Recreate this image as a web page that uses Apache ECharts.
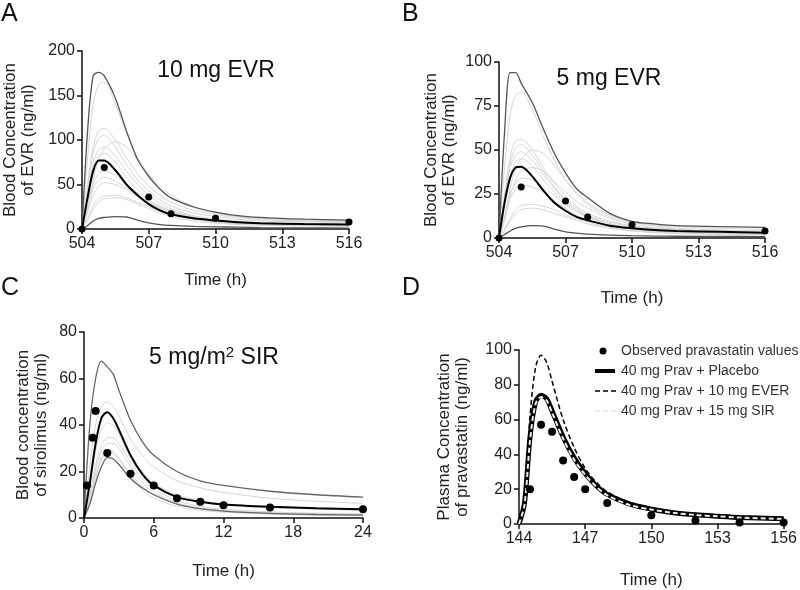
<!DOCTYPE html>
<html><head><meta charset="utf-8">
<script src="https://cdn.jsdelivr.net/npm/echarts@6/dist/echarts.min.js"></script>
<style>html,body{margin:0;padding:0;background:#fff}#c{width:800px;height:590px}</style>
</head><body><div id="c"></div>
<script>
// ---------- Panel A: 10 mg EVR ----------
const TIME_A = [504, 504.25, 504.5, 504.75, 505, 505.5, 506, 506.5, 507, 507.5, 508, 509, 510, 511, 512, 514, 516];
const A_MEDIAN = [0, 35, 65, 77, 77, 66, 50, 38, 28, 21, 16.5, 12, 9.5, 7.5, 6.5, 5.5, 5];
const A_P95 = [0, 110, 172, 176, 172, 147, 110, 78, 59, 45, 35, 25, 19, 15, 13, 11, 10];
const A_P05 = [0, 4, 9, 12, 13, 14, 13.5, 10, 7, 5, 4, 3, 2.5, 2, 1.5, 1.2, 1];
const A_SIMS = [
  [0, 80, 140, 162, 165, 140, 108, 80, 60, 45, 35, 24, 18, 14, 12, 10, 9],
  [0, 50, 92, 110, 113, 100, 80, 62, 48, 38, 30, 21, 16, 13, 11, 9, 8],
  [0, 45, 85, 102, 105, 92, 72, 55, 43, 33, 26, 18, 14, 11, 9, 8, 7],
  [0, 25, 55, 78, 90, 98, 92, 78, 62, 48, 38, 25, 18, 14, 11, 9, 8],
  [0, 40, 75, 89, 92, 82, 65, 50, 38, 29, 23, 15, 11, 9, 7, 6, 5],
  [0, 38, 70, 83, 85, 75, 58, 44, 33, 25, 20, 13, 10, 8, 6.5, 5.5, 5],
  [0, 25, 50, 62, 65, 60, 50, 40, 32, 26, 21, 14, 10, 8, 6, 5, 4],
  [0, 22, 45, 55, 58, 54, 46, 38, 30, 24, 19, 13, 9, 7, 5.5, 4.5, 4],
  [0, 18, 38, 48, 52, 50, 44, 36, 29, 23, 18, 12, 8, 6, 5, 4, 3.5],
  [0, 12, 26, 34, 37, 38, 35, 30, 25, 20, 16, 11, 8, 6, 5, 4, 3.5],
  [0, 10, 22, 30, 34, 35, 33, 28, 23, 18, 14, 9, 6.5, 5, 4, 3.5, 3]
];
const A_OBS_T = [504, 505, 507, 508, 510, 516];
const A_OBS_V = [0, 69, 36, 17, 12, 8];

// ---------- Panel B: 5 mg EVR ----------
const TIME_B = [504, 504.25, 504.5, 504.75, 505, 505.5, 506, 506.5, 507, 507.5, 508, 509, 510, 511, 512, 514, 516];
const B_MEDIAN = [0, 20, 34, 40, 40.5, 35, 27, 20, 15.5, 12, 10, 7, 5.5, 4.5, 4, 3.5, 3];
const B_P95 = [0, 60, 94, 94, 88, 77, 62, 48, 37, 28, 23, 14, 9.5, 8, 7, 6.5, 6];
const B_P05 = [0, 2, 4, 5.5, 6.3, 7, 6.8, 5, 3.5, 2.8, 2.2, 1.6, 1.3, 1.1, 1, 0.9, 0.8];
const B_SIMS = [
  [0, 40, 70, 81, 83, 73, 58, 44, 33, 25, 19, 12, 9, 7.5, 6.5, 5.5, 5],
  [0, 25, 46, 55, 56, 50, 40, 31, 24, 18, 14, 9.5, 7, 5.5, 4.8, 4, 3.5],
  [0, 22, 42, 51, 53, 47, 38, 29, 22, 17, 13, 9, 6.5, 5, 4.5, 3.8, 3.3],
  [0, 12, 28, 39, 45, 50, 48, 41, 33, 26, 20, 13, 9, 7, 5.5, 4.5, 4],
  [0, 22, 40, 47, 49, 44, 36, 28, 21, 16, 12.5, 8, 6, 4.8, 4, 3.5, 3],
  [0, 19, 36, 43, 45, 41, 33, 26, 20, 15, 12, 8, 5.5, 4.5, 3.8, 3.2, 2.8],
  [0, 10, 24, 33, 38, 40, 38, 32, 26, 21, 17, 11, 8, 6, 5, 4, 3.5],
  [0, 12, 25, 31, 34, 33, 29, 24, 19, 15, 12, 8, 5.5, 4.2, 3.5, 3, 2.5],
  [0, 10, 22, 28, 30, 29, 26, 21, 17, 13, 10, 7, 5, 3.8, 3.2, 2.7, 2.3],
  [0, 5, 11, 16, 18.5, 19, 18, 16, 13, 11, 9, 6, 4.3, 3.3, 2.8, 2.3, 2],
  [0, 4, 10, 14, 16, 17, 16, 14, 12, 10, 8, 5.5, 4, 3, 2.5, 2, 1.8]
];
const B_OBS_T = [504, 505, 507, 508, 510, 516];
const B_OBS_V = [0, 29, 21, 12, 7.5, 4];

// ---------- Panel C: 5 mg/m2 SIR ----------
const TIME_C = [0, 0.5, 1, 1.5, 2, 2.5, 3, 4, 5, 6, 8, 10, 12, 16, 20, 24];
const C_MEDIAN = [0, 15, 32, 43, 45.5, 43, 38, 27, 19, 14, 9, 7, 5.8, 4.8, 4.2, 3.8];
const C_P95 = [0, 40, 60, 67.5, 65, 62, 55, 42, 33, 27, 20, 16, 14, 11.5, 10, 9];
const C_P05 = [0, 6, 15, 22, 26, 25.5, 23, 17, 13, 10, 6, 4, 3, 2, 1.5, 1.2];
const C_SIMS = [
  [0, 22, 40, 48, 50, 48, 44, 34, 27, 22, 16, 13, 11, 8.5, 7.2, 6.3],
  [0, 14, 29, 38, 41, 40, 36, 27, 20, 15, 10, 7.5, 6, 4.5, 3.8, 3.2],
  [0, 10, 23, 31, 34.5, 34.5, 32, 24, 17, 12.5, 7.5, 5, 3.8, 2.6, 2.1, 1.8],
  [0, 9, 21, 29, 32, 32, 30, 22, 15.5, 11, 6.5, 4.3, 3.2, 2.2, 1.8, 1.5],
  [0, 8, 19, 26, 29, 28.5, 26, 19, 13.5, 10, 6, 4, 3, 2, 1.6, 1.3],
  [0, 7, 17, 25, 28, 27.5, 25, 18, 12, 8.5, 5, 3.3, 2.5, 1.7, 1.3, 1.1]
];
const C_OBS_T = [0.25, 0.75, 1, 2, 4, 6, 8, 10, 12, 16, 24];
const C_OBS_V = [14, 34.5, 46, 28, 19, 14, 8.5, 7, 5.5, 4.5, 3.8];

// ---------- Panel D: pravastatin ----------
const TIME_D = [144, 144.25, 144.5, 144.75, 145, 145.25, 145.5, 146, 146.5, 147, 147.5, 148, 149, 150, 151, 152, 153, 154, 156];
const D_PLACEBO = [0, 12, 50, 70, 74, 72, 65, 50, 38, 29, 22, 17, 11.5, 8.5, 6.5, 5.3, 4.5, 3.8, 3];
const D_EVER = [0, 15, 62, 90, 97, 93, 82, 60, 44, 32, 24, 18.5, 12.5, 9.3, 7.2, 6, 5.2, 4.5, 3.6];
const D_SIR = [0, 11, 48, 69, 73, 71, 64, 49, 37, 28.3, 21.5, 16.5, 11, 8.3, 6.4, 5.2, 4.4, 3.7, 2.9];
const D_OBS_T = [144.5, 145, 145.5, 146, 146.5, 147, 148, 150, 152, 154, 156];
const D_OBS_V = [20, 57, 53, 36.5, 27, 20, 12, 5, 2, 0.8, 0.8];
const D_NAMES = ['Observed pravastatin values', '40 mg Prav + Placebo', '40 mg Prav + 10 mg EVER', '40 mg Prav + 15 mg SIR'];

// ---------- Build ----------
const FONT = "'Liberation Sans', Arial, sans-serif";
function pairs(t, v) { return t.map((x, i) => [x, v[i]]); }

const grids = [
  {left: 79, top: 51, width: 270, height: 178},
  {left: 499, top: 62, width: 266, height: 176},
  {left: 84, top: 332, width: 279, height: 186},
  {left: 519, top: 350, width: 267, height: 177}
];
const xSpec = [
  {min: 504, max: 516, interval: 3, gap: 42},
  {min: 504, max: 516, interval: 3, gap: 51},
  {min: 0, max: 24, interval: 6, gap: 44},
  {min: 144, max: 156, interval: 3, gap: 47}
];
const ySpec = [
  {min: 0, max: 200, interval: 50, gap: 45, name: 'Blood Concentration\nof EVR (ng/ml)'},
  {min: 0, max: 100, interval: 25, gap: 41, name: 'Blood Concentration\nof EVR (ng/ml)'},
  {min: 0, max: 80, interval: 20, gap: 34, name: 'Blood concentration\nof sirolimus (ng/ml)'},
  {min: 0, max: 100, interval: 20, gap: 48, name: 'Plasma Concentration\nof pravastatin (ng/ml)'}
];
const axisCommon = {
  axisLine: {lineStyle: {color: '#111', width: 1.5}},
  axisTick: {show: true, inside: false, length: 5, lineStyle: {color: '#111', width: 1.5}},
  splitLine: {show: false},
  axisLabel: {color: '#222', fontSize: 16, fontFamily: FONT, margin: 7},
  nameTextStyle: {color: '#222', fontSize: 17, fontFamily: FONT, lineHeight: 18}
};
const xAxes = xSpec.map((s, i) => Object.assign({
  type: 'value', gridIndex: i, min: s.min, max: s.max, interval: s.interval,
  name: 'Time (h)', nameLocation: 'middle', nameGap: s.gap
}, JSON.parse(JSON.stringify(axisCommon))));
const yAxes = ySpec.map((s, i) => Object.assign({
  type: 'value', gridIndex: i, min: s.min, max: s.max, interval: s.interval,
  name: s.name, nameLocation: 'middle', nameRotate: 90, nameGap: s.gap
}, JSON.parse(JSON.stringify(axisCommon))));

const series = [];
function line(idx, t, v, color, width, extra) {
  series.push(Object.assign({
    type: 'line', xAxisIndex: idx, yAxisIndex: idx, data: pairs(t, v),
    symbol: 'none', smooth: 0.3, lineStyle: {color: color, width: width}, itemStyle: {color: color},
    silent: true, animation: false, z: 2
  }, extra || {}));
}
function dots(idx, t, v, size, name) {
  series.push({
    type: 'scatter', name: name, xAxisIndex: idx, yAxisIndex: idx, data: pairs(t, v),
    symbol: 'circle', symbolSize: size, itemStyle: {color: '#000', opacity: 1}, clip: false, animation: false, z: 5
  });
}
const LIGHT = '#d6d6d6', DARK = '#555';
A_SIMS.forEach(s => line(0, TIME_A, s, LIGHT, 1));
line(0, TIME_A, A_P95, DARK, 1.3, {z: 3});
line(0, TIME_A, A_P05, DARK, 1.3, {z: 3});
line(0, TIME_A, A_MEDIAN, '#000', 2, {z: 4});
dots(0, A_OBS_T, A_OBS_V, 7);

B_SIMS.forEach(s => line(1, TIME_B, s, LIGHT, 1));
line(1, TIME_B, B_P95, DARK, 1.3, {z: 3});
line(1, TIME_B, B_P05, DARK, 1.3, {z: 3});
line(1, TIME_B, B_MEDIAN, '#000', 2, {z: 4});
dots(1, B_OBS_T, B_OBS_V, 7);

C_SIMS.forEach(s => line(2, TIME_C, s, LIGHT, 1));
line(2, TIME_C, C_P95, '#666', 1.3, {z: 3});
line(2, TIME_C, C_P05, '#666', 1.3, {z: 3});
line(2, TIME_C, C_MEDIAN, '#000', 2, {z: 4});
dots(2, C_OBS_T, C_OBS_V, 8);

dots(3, D_OBS_T, D_OBS_V, 8, D_NAMES[0]);
line(3, TIME_D, D_PLACEBO, '#000', 5, {name: D_NAMES[1], silent: false, z: 3});
line(3, TIME_D, D_EVER, '#000', 1.5, {name: D_NAMES[2], silent: false, z: 3, lineStyle: {color: '#000', width: 1.5, type: [5, 3]}});
line(3, TIME_D, D_SIR, '#ececec', 2, {name: D_NAMES[3], silent: false, z: 4, lineStyle: {color: '#ececec', width: 2, type: [5, 3]}});

// legend icon shapes (25 x 10 box)
const ICON_DOT = 'path://M0,0M25,10M15.5,5A3.5,3.5,0,1,1,8.5,5A3.5,3.5,0,1,1,15.5,5Z';
const ICON_THICK = 'path://M0,0M25,10M4,3L24,3L24,7L4,7Z';
const ICON_DASH = 'path://M0,0M25,10M4,4.3L9,4.3L9,5.7L4,5.7ZM12,4.3L17,4.3L17,5.7L12,5.7ZM20,4.3L25,4.3L25,5.7L20,5.7Z';
const ICON_DASH2 = 'path://M0,0M25,10M4,4L9,4L9,6L4,6ZM12,4L17,4L17,6L12,6ZM20,4L25,4L25,6L20,6Z';

const titles = [
  {text: 'A', left: 1, top: 2}, {text: 'B', left: 402, top: 2},
  {text: 'C', left: 1, top: 276}, {text: 'D', left: 402, top: 276}
].map(t => ({text: t.text, left: t.left, top: t.top, padding: 0, textStyle: {fontSize: 25, fontWeight: 'normal', color: '#111', fontFamily: FONT}}));
const subStyle = {fontSize: 23, fontWeight: 'normal', color: '#111', fontFamily: FONT};
titles.push(
  {text: '10 mg EVR', left: 216, top: 71, textAlign: 'center', textVerticalAlign: 'middle', padding: 0, textStyle: subStyle},
  {text: '5 mg EVR', left: 609, top: 79, textAlign: 'center', textVerticalAlign: 'middle', padding: 0, textStyle: subStyle},
  {text: '5 mg/m{sup|2} SIR', left: 214, top: 358, textAlign: 'center', textVerticalAlign: 'middle', padding: 0,
   textStyle: Object.assign({}, subStyle, {
     rich: {sup: {fontSize: 15, verticalAlign: 'top', padding: [0, 0, 10, 0], color: '#111', fontFamily: FONT}}})}
);

const chart = echarts.init(document.getElementById('c'), null, {renderer: 'canvas'});
chart.setOption({
  backgroundColor: '#fff',
  animation: false,
  title: titles,
  grid: grids,
  xAxis: xAxes,
  yAxis: yAxes,
  legend: {
    data: [
      {name: D_NAMES[0], icon: ICON_DOT},
      {name: D_NAMES[1], icon: ICON_THICK},
      {name: D_NAMES[2], icon: ICON_DASH},
      {name: D_NAMES[3], icon: ICON_DASH2}
    ],
    orient: 'vertical', left: 586, top: 339, itemWidth: 25, itemHeight: 10, itemGap: 6,
    itemStyle: {borderWidth: 0},
    textStyle: {fontSize: 14, color: '#333', fontFamily: FONT}, selectedMode: false
  },
  series: series
});
</script></body></html>
